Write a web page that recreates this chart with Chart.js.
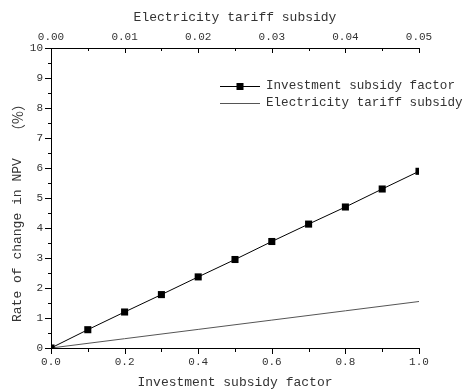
<!DOCTYPE html>
<html>
<head>
<meta charset="utf-8">
<script src="https://cdn.jsdelivr.net/npm/chart.js@4/dist/chart.umd.min.js"></script>
<style>
  html, body { margin: 0; padding: 0; background: #fff; }
  canvas { display: block; }
</style>
</head>
<body>
<canvas id="c" width="467" height="390"></canvas>
<script>
// Investment subsidy factor (bottom axis) vs. rate of change in NPV (%)
const investmentFactor = [0.0, 0.1, 0.2, 0.3, 0.4, 0.5, 0.6, 0.7, 0.8, 0.9, 1.0];
const investmentNPV    = [0, 0.61, 1.20, 1.78, 2.37, 2.95, 3.55, 4.13, 4.70, 5.30, 5.89];

// Electricity tariff subsidy (top axis) vs. rate of change in NPV (%)
const tariffSubsidy = [0.00, 0.01, 0.02, 0.03, 0.04, 0.05];
const tariffNPV     = [0, 0.31, 0.62, 0.93, 1.24, 1.55];

const seriesNames = ['Investment subsidy factor', 'Electricity tariff subsidy'];
const axisTitles = {
  bottom: 'Investment subsidy factor',
  top: 'Electricity tariff subsidy',
  left: 'Rate of change in NPV',
  leftUnit: '（%）'
};

const FONT = '"Liberation Mono", "DejaVu Sans Mono", monospace';
const CJK = '"Noto Sans CJK SC", "Liberation Mono", monospace';
const TEXT = '#333';

const toPoints = (xs, ys) => xs.map((x, i) => ({ x: x, y: ys[i] }));

// Major/minor tick marks drawn from each scale's own pixel mapping
const tickMarks = {
  id: 'tickMarks',
  afterDraw(chart) {
    const ctx = chart.ctx;
    const { x, x2, y } = chart.scales;
    ctx.save();
    ctx.strokeStyle = '#000';
    ctx.lineWidth = 1;
    ctx.beginPath();
    // left axis, outward
    for (let i = 0; i <= 20; i++) {
      const py = Math.round(y.getPixelForValue(i * 0.5)) + 0.5;
      const len = i % 2 === 0 ? 6 : 3;
      ctx.moveTo(y.right, py); ctx.lineTo(y.right - len, py);
    }
    // bottom axis, outward
    for (let i = 0; i <= 10; i++) {
      const px = Math.round(x.getPixelForValue(i * 0.1)) + 0.5;
      const len = i % 2 === 0 ? 6 : 4;
      ctx.moveTo(px, x.top); ctx.lineTo(px, x.top + len);
    }
    // top axis, inward
    for (let i = 0; i <= 10; i++) {
      const px = Math.round(x2.getPixelForValue(i * 0.005)) + 0.5;
      const len = i % 2 === 0 ? 5 : 3;
      ctx.moveTo(px, x2.bottom); ctx.lineTo(px, x2.bottom + len);
    }
    ctx.stroke();
    ctx.restore();
  }
};

// Rotated title of the value axis, with its unit set a little apart
const yTitle = {
  id: 'yTitle',
  afterDraw(chart) {
    const ctx = chart.ctx;
    const area = chart.chartArea;
    ctx.save();
    ctx.translate(17.5, area.bottom - 26);
    ctx.rotate(-Math.PI / 2);
    ctx.fillStyle = TEXT;
    ctx.textBaseline = 'middle';
    ctx.textAlign = 'left';
    ctx.font = '13px ' + FONT;
    ctx.fillText(axisTitles.left, 0, 0);
    ctx.font = '14px ' + CJK;
    ctx.fillText(axisTitles.leftUnit, 184, 0);
    ctx.restore();
  }
};

// Legend in the upper right of the plot
const lineLegend = {
  id: 'lineLegend',
  afterDraw(chart) {
    const ctx = chart.ctx;
    const x0 = 220, x1 = 260, tx = 266;
    const rows = [
      { y: 86, color: '#000', marker: true, label: seriesNames[0] },
      { y: 103, color: '#555', marker: false, label: seriesNames[1] }
    ];
    ctx.save();
    ctx.font = '12.6px ' + FONT;
    ctx.textBaseline = 'middle';
    ctx.textAlign = 'left';
    rows.forEach(r => {
      ctx.strokeStyle = r.color;
      ctx.lineWidth = 1;
      ctx.beginPath();
      ctx.moveTo(x0, r.y + 0.5); ctx.lineTo(x1, r.y + 0.5);
      ctx.stroke();
      if (r.marker) {
        ctx.fillStyle = '#000';
        ctx.fillRect((x0 + x1) / 2 - 3.5, r.y - 3, 7, 7);
      }
      ctx.fillStyle = TEXT;
      ctx.fillText(r.label, tx, r.y);
    });
    ctx.restore();
  }
};

new Chart(document.getElementById('c'), {
  type: 'line',
  data: {
    datasets: [
      {
        label: seriesNames[0],
        data: toPoints(investmentFactor, investmentNPV),
        xAxisID: 'x', yAxisID: 'y',
        borderColor: '#000', borderWidth: 1,
        pointStyle: 'rect', pointRadius: 5, pointBackgroundColor: '#000',
        pointBorderWidth: 0, tension: 0
      },
      {
        label: seriesNames[1],
        data: toPoints(tariffSubsidy, tariffNPV),
        xAxisID: 'x2', yAxisID: 'y',
        borderColor: '#555', borderWidth: 1,
        pointRadius: 0, tension: 0
      }
    ]
  },
  options: {
    responsive: false,
    animation: false,
    events: [],
    layout: { padding: { left: 0, right: 48, top: 0, bottom: 0 } },
    plugins: { legend: { display: false }, tooltip: { enabled: false } },
    scales: {
      x: {
        type: 'linear', position: 'bottom', min: 0, max: 1,
        afterFit: s => { s.height = 42; },
        grid: { display: false, drawTicks: false },
        border: { display: true, color: '#000', width: 1 },
        ticks: {
          stepSize: 0.2, padding: 7, color: TEXT, maxRotation: 0,
          font: { family: FONT, size: 11 },
          callback: v => Number(v).toFixed(1)
        },
        title: {
          display: true, text: axisTitles.bottom, color: TEXT,
          font: { family: FONT, size: 13 }, padding: { top: 0, bottom: 0 }
        }
      },
      x2: {
        type: 'linear', position: 'top', min: 0, max: 0.05,
        afterFit: s => { s.height = 48; },
        grid: { display: false, drawTicks: false },
        border: { display: true, color: '#000', width: 1 },
        ticks: {
          stepSize: 0.01, padding: 4, color: TEXT, maxRotation: 0,
          font: { family: FONT, size: 11 },
          callback: v => Number(v).toFixed(2)
        },
        title: {
          display: true, text: axisTitles.top, color: TEXT,
          font: { family: FONT, size: 13 }, padding: { top: 10, bottom: 0 }
        }
      },
      y: {
        type: 'linear', position: 'left', min: 0, max: 10,
        afterFit: s => { s.width = 51; },
        grid: { display: false, drawTicks: false },
        border: { display: true, color: '#000', width: 1 },
        ticks: {
          stepSize: 1, padding: 8, color: TEXT,
          font: { family: FONT, size: 11 }
        },
        title: { display: false }
      }
    }
  },
  plugins: [tickMarks, yTitle, lineLegend]
});
</script>
</body>
</html>
